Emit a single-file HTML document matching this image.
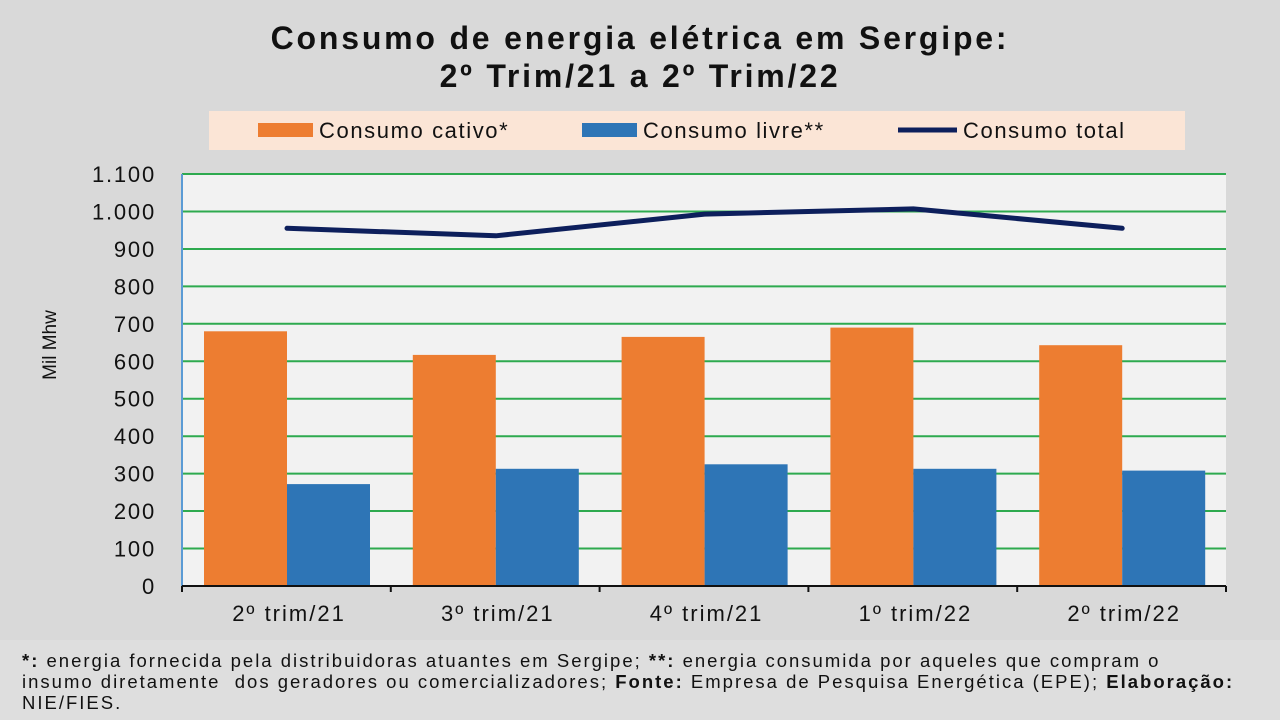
<!DOCTYPE html>
<html><head><meta charset="utf-8"><style>
body{margin:0;width:1280px;height:720px;background:#d9d9d9;font-family:"Liberation Sans",sans-serif;overflow:hidden;position:relative}
.t{position:absolute;left:0;width:1280px;text-align:center;font-weight:bold;font-size:32px;letter-spacing:2.8px;color:#111}
.foot{position:absolute;left:0;top:640px;width:1280px;height:80px;background:#dedede;font-size:18.5px;letter-spacing:2px;line-height:21px;padding:10px 0 0 22px;box-sizing:border-box;color:#111;white-space:nowrap}
</style></head><body>
<div class="t" style="top:20px">Consumo de energia elétrica em Sergipe:</div>
<div class="t" style="top:58px">2º Trim/21 a 2º Trim/22</div>
<svg width="1280" height="640" style="position:absolute;left:0;top:0" font-family="Liberation Sans, sans-serif">
<rect x="209" y="111" width="976" height="39" fill="#fbe5d6"/>
<rect x="258" y="123" width="55" height="14" fill="#ed7d31"/>
<text x="319" y="138" font-size="22" letter-spacing="1.6" fill="#111">Consumo cativo*</text>
<rect x="582" y="123" width="55" height="14" fill="#2e75b6"/>
<text x="643" y="138" font-size="22" letter-spacing="1.6" fill="#111">Consumo livre**</text>
<line x1="898" y1="130" x2="957" y2="130" stroke="#0d1f5c" stroke-width="5"/>
<text x="963" y="138" font-size="22" letter-spacing="1.6" fill="#111">Consumo total</text>
<rect x="182" y="174" width="1044" height="412" fill="#f2f2f2"/>
<g stroke="#2eaa4f" stroke-width="2">
<line x1="182" x2="1226" y1="174" y2="174"/><line x1="182" x2="1226" y1="211.5" y2="211.5"/>
<line x1="182" x2="1226" y1="249" y2="249"/><line x1="182" x2="1226" y1="286.4" y2="286.4"/>
<line x1="182" x2="1226" y1="323.8" y2="323.8"/><line x1="182" x2="1226" y1="361.3" y2="361.3"/>
<line x1="182" x2="1226" y1="398.7" y2="398.7"/><line x1="182" x2="1226" y1="436.2" y2="436.2"/>
<line x1="182" x2="1226" y1="473.6" y2="473.6"/><line x1="182" x2="1226" y1="511" y2="511"/>
<line x1="182" x2="1226" y1="548.5" y2="548.5"/></g>
<line x1="182" y1="174" x2="182" y2="586" stroke="#5b9bd5" stroke-width="2"/>
<g fill="#ed7d31">
<rect x="204" y="331.3" width="83" height="254.7"/>
<rect x="412.8" y="354.9" width="83" height="231.1"/>
<rect x="621.6" y="336.9" width="83" height="249.1"/>
<rect x="830.4" y="327.6" width="83" height="258.4"/>
<rect x="1039.2" y="345.2" width="83" height="240.8"/></g>
<g fill="#2e75b6">
<rect x="287" y="484.1" width="83" height="101.9"/>
<rect x="495.8" y="468.8" width="83" height="117.2"/>
<rect x="704.6" y="464.3" width="83" height="121.7"/>
<rect x="913.4" y="468.8" width="83" height="117.2"/>
<rect x="1122.2" y="470.6" width="83" height="115.4"/></g>
<polyline points="287,228.3 495.8,235.8 704.6,214.1 913.4,208.9 1122.2,228.3" fill="none" stroke="#0d1f5c" stroke-width="5" stroke-linejoin="round" stroke-linecap="round"/>
<line x1="182" y1="586" x2="1226" y2="586" stroke="#111" stroke-width="2"/>
<g stroke="#111" stroke-width="2"><line x1="182" x2="182" y1="586" y2="592"/><line x1="390.8" x2="390.8" y1="586" y2="592"/><line x1="599.6" x2="599.6" y1="586" y2="592"/><line x1="808.4" x2="808.4" y1="586" y2="592"/><line x1="1017.2" x2="1017.2" y1="586" y2="592"/><line x1="1226" x2="1226" y1="586" y2="592"/></g>
<g font-size="22" letter-spacing="1.8" fill="#111" text-anchor="end">
<text x="156" y="182">1.100</text><text x="156" y="219.5">1.000</text><text x="156" y="257">900</text><text x="156" y="294.4">800</text><text x="156" y="331.8">700</text><text x="156" y="369.3">600</text><text x="156" y="406.7">500</text><text x="156" y="444.2">400</text><text x="156" y="481.6">300</text><text x="156" y="519">200</text><text x="156" y="556.5">100</text><text x="156" y="594">0</text></g>
<g font-size="22" letter-spacing="2" fill="#111" text-anchor="middle">
<text x="289" y="621">2º trim/21</text><text x="497.8" y="621">3º trim/21</text><text x="706.6" y="621">4º trim/21</text><text x="915.4" y="621">1º trim/22</text><text x="1124.2" y="621">2º trim/22</text></g>
<text transform="translate(56,345) rotate(-90)" font-size="19" fill="#111" text-anchor="middle">Mil Mhw</text>
</svg>
<div class="foot"><b>*:</b> energia fornecida pela distribuidoras atuantes em Sergipe; <b>**:</b> energia consumida por aqueles que compram o<br>insumo diretamente &nbsp;dos geradores ou comercializadores; <b>Fonte:</b> Empresa de Pesquisa Energética (EPE); <b>Elaboração:</b><br>NIE/FIES.</div>
</body></html>
